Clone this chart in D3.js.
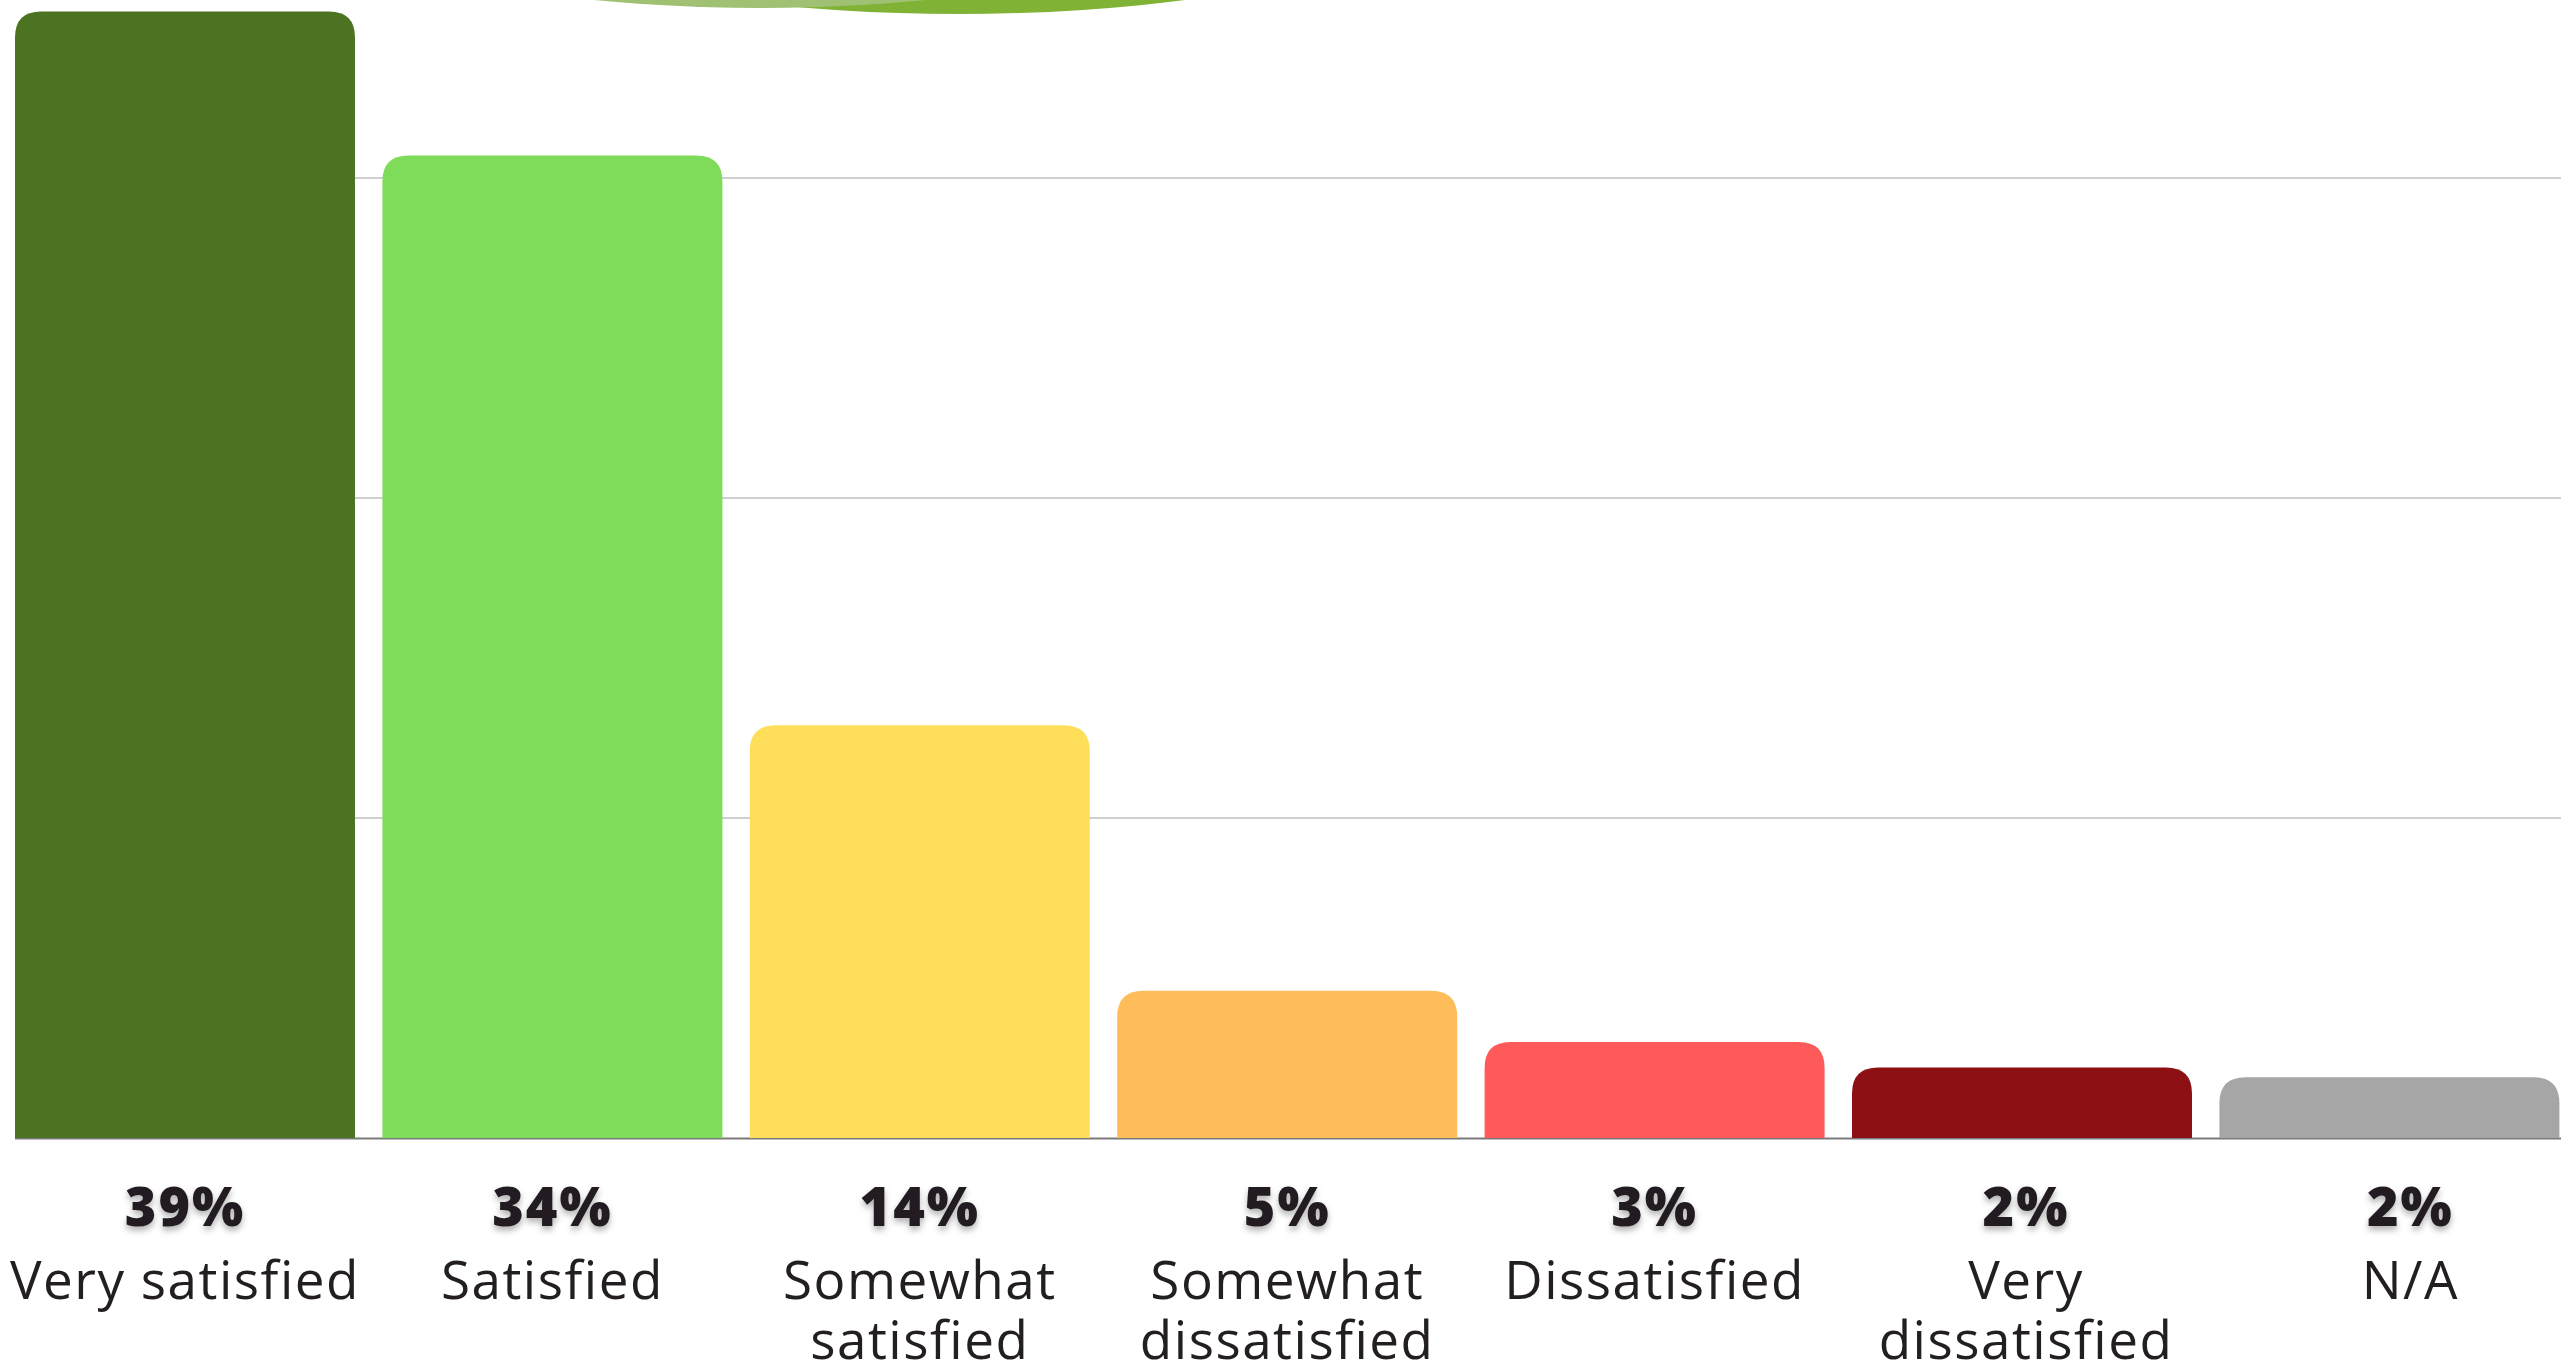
<!DOCTYPE html>
<html>
<head>
<meta charset="utf-8">
<script src="https://cdn.jsdelivr.net/npm/d3@7"></script>
<style>
  html, body { margin: 0; padding: 0; background: #ffffff; }
  svg { display: block; }
</style>
</head>
<body>
<svg id="chart" width="2575" height="1362"></svg>
<script>
// ---- data ----
const categories = ["Very satisfied", "Satisfied", "Somewhat satisfied", "Somewhat dissatisfied", "Dissatisfied", "Very dissatisfied", "N/A"];
const labelLines = [["Very satisfied"], ["Satisfied"], ["Somewhat", "satisfied"], ["Somewhat", "dissatisfied"], ["Dissatisfied"], ["Very", "dissatisfied"], ["N/A"]];
const counts = [352, 307, 129, 46, 30, 22, 19];
const percentLabels = ["39%", "34%", "14%", "5%", "3%", "2%", "2%"];
const gridValues = [100, 200, 300];
const barColors = ["#4c7322", "#7fdb5a", "#ffde5a", "#febc5a", "#ff5a5a", "#8d1114", "#a6a6a6"];

// ---- layout ----
const W = 2575, H = 1362;
const svg = d3.select("#chart");
const baseY = 1138;
const labelShift = [0, 0, 0, 0, 0, 4, 21];

const x = d3.scaleBand().domain(categories).range([15, 2559.4]).paddingInner(0.0746).paddingOuter(0);
const y = d3.scaleLinear().domain([0, 400]).range([baseY, baseY - 1280]);
const cx = (d, i) => x(d) + x.bandwidth() / 2 + labelShift[i];

// filter for percent labels
const defs = svg.append("defs");
const f = defs.append("filter").attr("id", "shadow").attr("x", "-20%").attr("y", "-30%").attr("width", "140%").attr("height", "170%");
f.append("feDropShadow").attr("dx", 0).attr("dy", 4).attr("stdDeviation", 3).attr("flood-color", "#000").attr("flood-opacity", 0.3);

// decorative header ellipses (clipped by top edge)
svg.append("ellipse").attr("cx", 959).attr("cy", -186).attr("rx", 615).attr("ry", 200).attr("fill", "#80b236");
svg.append("ellipse").attr("cx", 760).attr("cy", -142).attr("rx", 514).attr("ry", 150).attr("fill", "#a0c073");

// gridlines
svg.append("g").selectAll("line").data(gridValues).join("line")
  .attr("x1", 15).attr("x2", 2561)
  .attr("y1", d => y(d)).attr("y2", d => y(d))
  .attr("stroke", "#cfcfcf").attr("stroke-width", 2);

// baseline
svg.append("line").attr("x1", 15).attr("x2", 2561)
  .attr("y1", y(0) + 0.5).attr("y2", y(0) + 0.5)
  .attr("stroke", "#7a7a7a").attr("stroke-width", 2);

// bars with rounded top corners
const r = 26;
function barPath(x0, w, yTop, yBot) {
  const rr = Math.min(r, (yBot - yTop), w / 2);
  return `M${x0},${yBot}` +
    `L${x0},${yTop + rr}` +
    `Q${x0},${yTop} ${x0 + rr},${yTop}` +
    `L${x0 + w - rr},${yTop}` +
    `Q${x0 + w},${yTop} ${x0 + w},${yTop + rr}` +
    `L${x0 + w},${yBot}Z`;
}
svg.append("g").selectAll("path").data(categories).join("path")
  .attr("d", (d, i) => barPath(x(d), x.bandwidth(), y(counts[i]), y(0)))
  .attr("fill", (d, i) => barColors[i]);

// labels
const lab = svg.append("g").attr("text-anchor", "middle").attr("fill", "#231f20");
lab.selectAll("text.pct").data(categories).join("text")
  .attr("class", "pct")
  .attr("x", cx)
  .attr("y", 1226)
  .attr("font-family", "'Open Sans', sans-serif")
  .attr("font-weight", 800)
  .attr("font-size", 54)
  .attr("letter-spacing", 2)
  .attr("filter", "url(#shadow)")
  .text((d, i) => percentLabels[i]);

const catG = lab.selectAll("text.cat").data(categories).join("text")
  .attr("class", "cat")
  .attr("x", cx)
  .attr("y", 1299)
  .attr("font-family", "'Open Sans', sans-serif")
  .attr("font-weight", 500)
  .attr("font-size", 53)
  .attr("letter-spacing", 1.5);
catG.each(function (d, i) {
  const t = d3.select(this);
  labelLines[i].forEach((line, j) => {
    t.append("tspan").attr("x", cx(d, i)).attr("dy", j === 0 ? 0 : 60).text(line);
  });
});
</script>
</body>
</html>
